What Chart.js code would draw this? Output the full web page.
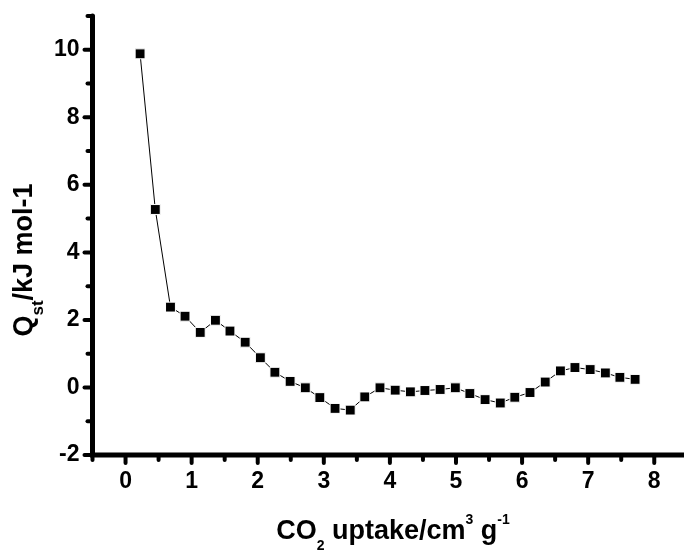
<!DOCTYPE html>
<html>
<head>
<meta charset="utf-8">
<script src="https://cdn.jsdelivr.net/npm/chart.js@4.4.1/dist/chart.umd.min.js"></script>
<style>
html,body{margin:0;padding:0;background:#fff;overflow:hidden}
#wrap{width:684px;height:552px;position:relative}
</style>
</head>
<body>
<div id="wrap"><canvas id="c" width="684" height="552"></canvas></div>
<script>
// ---- data ----
const uptake = [0.22,0.45,0.68,0.90,1.13,1.36,1.58,1.81,2.04,2.26,2.49,2.72,2.94,3.17,3.40,3.62,3.85,4.08,4.31,4.53,4.76,4.99,5.21,5.44,5.67,5.89,6.12,6.35,6.58,6.80,7.03,7.26,7.48,7.71];
const qst = [9.88,5.27,2.38,2.11,1.63,1.99,1.67,1.34,0.88,0.45,0.18,-0.01,-0.30,-0.62,-0.67,-0.28,-0.01,-0.08,-0.13,-0.09,-0.06,-0.01,-0.18,-0.36,-0.46,-0.29,-0.15,0.16,0.49,0.59,0.53,0.43,0.30,0.24];
const xTickValues = [0,1,2,3,4,5,6,7,8];
const xMinorTicks = [-0.5,0.5,1.5,2.5,3.5,4.5,5.5,6.5,7.5];
const yTickValues = [-2,0,2,4,6,8,10];
const yMinorTicks = [-1,1,3,5,7,9,11];
const xTitleParts = [["CO","n"],["2","sub"],[" uptake/cm","n"],["3","sup"],[" g","n"],["-1","sup"]];
const yTitleParts = [["Q","n"],["st","sub"],["/kJ mol-1","n"]];

const FAMILY = "'Liberation Sans', Arial, Helvetica, sans-serif";

function drawParts(ctx, parts, mainSize, subSize, subOff, supOff) {
  const widths = parts.map(([t, k]) => {
    ctx.font = "bold " + (k === "n" ? mainSize : subSize) + "px " + FAMILY;
    return ctx.measureText(t).width;
  });
  const total = widths.reduce((a, b) => a + b, 0);
  let x = -total / 2;
  parts.forEach(([t, k], i) => {
    ctx.font = "bold " + (k === "n" ? mainSize : subSize) + "px " + FAMILY;
    const dy = k === "sub" ? subOff : (k === "sup" ? supOff : 0);
    ctx.fillText(t, x, dy);
    x += widths[i];
  });
}

const axesPlugin = {
  id: "originAxes",
  afterDraw(chart) {
    const { ctx, chartArea: a, scales: { x, y } } = chart;
    ctx.save();
    ctx.strokeStyle = "#000";
    ctx.fillStyle = "#000";
    ctx.lineCap = "round";
    const xl = x.getPixelForValue(-0.5);
    const yb = y.getPixelForValue(-2);
    const yt = y.getPixelForValue(11);
    ctx.lineWidth = 5;
    ctx.beginPath();
    ctx.moveTo(xl, yt);
    ctx.lineTo(xl, yb);
    ctx.lineTo(a.right + 10, yb);
    ctx.stroke();
    ctx.lineWidth = 4;
    const tick = (x1, y1, x2, y2) => { ctx.beginPath(); ctx.moveTo(x1, y1); ctx.lineTo(x2, y2); ctx.stroke(); };
    xTickValues.forEach(v => { const p = x.getPixelForValue(v); tick(p, yb, p, yb + 8); });
    xMinorTicks.forEach(v => { const p = x.getPixelForValue(v); tick(p, yb, p, yb + 5); });
    yTickValues.forEach(v => { const p = y.getPixelForValue(v); tick(xl, p, xl - 8, p); });
    yMinorTicks.forEach(v => { const p = y.getPixelForValue(v); tick(xl, p, xl - 5, p); });
    ctx.textBaseline = "alphabetic";
    ctx.textAlign = "left";
    ctx.save();
    ctx.translate(393, 538.5);
    drawParts(ctx, xTitleParts, 27, 14, 11.5, -15);
    ctx.restore();
    ctx.save();
    ctx.translate(31.5, 260);
    ctx.rotate(-Math.PI / 2);
    drawParts(ctx, yTitleParts, 27, 17, 11.5, -15);
    ctx.restore();
    ctx.restore();
  }
};

const tickFont = { family: FAMILY, size: 23, weight: "bold" };

new Chart(document.getElementById("c"), {
  type: "scatter",
  data: {
    datasets: [{
      data: uptake.map((u, i) => ({ x: u, y: qst[i] })),
      showLine: true,
      borderColor: "#000",
      borderWidth: 1,
      pointStyle: "rect",
      pointRadius: 7,
      pointHoverRadius: 7,
      pointBackgroundColor: "#000",
      pointBorderColor: "#ffffff",
      pointBorderWidth: 1,
      tension: 0
    }]
  },
  options: {
    responsive: false,
    animation: false,
    devicePixelRatio: 1,
    layout: { autoPadding: false, padding: { top: 16, right: 0, bottom: 0, left: 0 } },
    plugins: { legend: { display: false }, tooltip: { enabled: false } },
    scales: {
      x: {
        type: "linear",
        min: -0.5,
        max: 8.45,
        afterBuildTicks: s => { s.ticks = xTickValues.map(v => ({ value: v })); },
        afterFit: s => { s.height = 97; s.paddingLeft = 0; s.paddingRight = 0; },
        grid: { display: false, drawTicks: false, tickLength: 0 },
        border: { display: false },
        ticks: { font: tickFont, color: "#000", padding: 13, maxRotation: 0, autoSkip: false, callback: v => String(v) }
      },
      y: {
        type: "linear",
        min: -2,
        max: 11,
        afterBuildTicks: s => { s.ticks = yTickValues.map(v => ({ value: v })); },
        afterFit: s => { s.width = 92.5; s.paddingTop = 0; s.paddingBottom = 0; },
        grid: { display: false, drawTicks: false, tickLength: 0 },
        border: { display: false },
        ticks: { font: tickFont, color: "#000", padding: 13, autoSkip: false, callback: v => String(v) }
      }
    }
  },
  plugins: [axesPlugin]
});
</script>
</body>
</html>
